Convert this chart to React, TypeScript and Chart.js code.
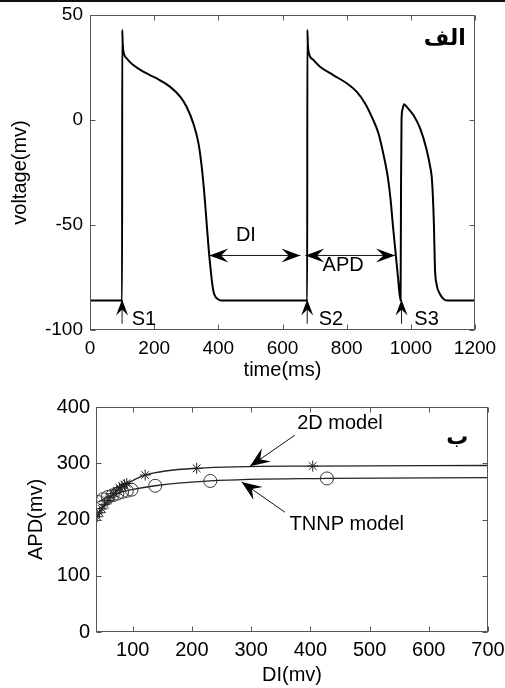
import React, { useEffect, useRef } from "react";
import { Chart, registerables } from "chart.js";

Chart.register(...registerables);

const FONT = "'Liberation Sans', Arial, Helvetica, sans-serif";
const ARABIC_FONT = "'DejaVu Sans', 'Noto Sans', sans-serif";

// ---------- Panel "الف" : action potential trace ----------
const timeMs = [
  0, 100, 100.5, 102, 105, 114, 135, 166, 208, 249, 281, 301, 322, 338, 348, 358, 364, 372, 384, 400, 412,
  677, 677.5, 679, 682, 696, 717, 758, 800, 831, 857, 878, 899, 914, 928, 937, 944, 953, 960, 968,
  969.5, 971, 974, 979, 986, 997, 1008, 1029, 1049, 1060, 1065, 1068, 1072, 1075, 1080, 1091, 1105, 1116, 1200,
];
const voltageMv = [
  -86, -86, 43, 36, 32, 29.4, 26.2, 23, 19.8, 15.9, 11.1, 6.3, -1.6, -11, -22, -38, -50, -65, -81, -85.4, -86,
  -86, 43, 36, 32, 28.6, 25.4, 21.4, 17.5, 13.5, 8, 1.6, -6.3, -15.9, -27, -38, -50, -64, -75, -86,
  -30, 0, 5, 7.5, 6.5, 4.5, 2.4, -4, -14, -22, -27, -34, -50, -70, -78, -83, -85.6, -86, -86,
];
const timeTicks = [0, 200, 400, 600, 800, 1000, 1200];
const voltTicks = [-100, -50, 0, 50];
const stimTimes = [100, 677, 971];
const stimNames = ["S1", "S2", "S3"];
const stimLabelTimes = [168, 751, 1049];

// ---------- Panel "ب" : APD restitution ----------
const di2D = [40, 44, 48, 53, 58, 63, 68, 73, 78, 82, 86, 90, 121, 208, 404];
const apd2D = [205, 212, 219, 227, 234, 240, 246, 251, 256, 259, 262, 264, 279, 291, 295];
const diTNNP = [42, 50, 58, 66, 74, 82, 90, 98, 138, 231, 428];
const apdTNNP = [231, 236, 240, 243, 246, 249, 251, 253, 260, 268.5, 273];
const diEnd = 700;
const apd2DEnd = 296;
const apdTNNPEnd = 274.5;
const diTicks = [100, 200, 300, 400, 500, 600, 700];
const apdTicks = [0, 100, 200, 300, 400];

type Arrow = { x1: number; y1: number; x2: number; y2: number; both?: boolean; len: number; half: number };
type Label = { x: number; y: number; text: string; size: number; bold?: boolean; family?: string };
type Decor = {
  xTicks: number[];
  yTicks: number[];
  xTitle: string;
  yTitle: string;
  titleSize: number;
  xTitleDy: number;
  yTitleX: number;
  labels: Label[];
  arrows: Arrow[];
};

function head(ctx: CanvasRenderingContext2D, tx: number, ty: number, dx: number, dy: number, len: number, half: number) {
  const m = Math.hypot(dx, dy) || 1;
  const ux = dx / m, uy = dy / m;
  const nx = -uy, ny = ux;
  ctx.beginPath();
  ctx.moveTo(tx, ty);
  ctx.lineTo(tx - ux * len + nx * half, ty - uy * len + ny * half);
  ctx.lineTo(tx - ux * len * 0.62, ty - uy * len * 0.62);
  ctx.lineTo(tx - ux * len - nx * half, ty - uy * len - ny * half);
  ctx.closePath();
  ctx.fill();
}

function makeDecor(d: Decor) {
  return {
    id: "decor",
    afterDraw(chart: any) {
      const { ctx, chartArea: a, scales } = chart;
      const xs = scales.x, ys = scales.y;
      ctx.save();
      // frame with inward ticks
      const L = Math.round(a.left) + 0.5, R = Math.round(a.right) - 0.5;
      const T = Math.round(a.top) + 0.5, B = Math.round(a.bottom) - 0.5;
      ctx.strokeStyle = "#555";
      ctx.lineWidth = 1;
      ctx.strokeRect(L, T, R - L, B - T);
      ctx.beginPath();
      for (const v of d.xTicks) {
        const p = Math.round(xs.getPixelForValue(v)) + 0.5;
        ctx.moveTo(p, B); ctx.lineTo(p, B - 5);
        ctx.moveTo(p, T); ctx.lineTo(p, T + 5);
      }
      for (const v of d.yTicks) {
        const p = Math.round(ys.getPixelForValue(v)) + 0.5;
        ctx.moveTo(L, p); ctx.lineTo(L + 5, p);
        ctx.moveTo(R, p); ctx.lineTo(R - 5, p);
      }
      ctx.stroke();

      // axis titles
      ctx.fillStyle = "#000";
      ctx.font = `${d.titleSize}px ${FONT}`;
      ctx.textAlign = "center";
      ctx.textBaseline = "middle";
      ctx.fillText(d.xTitle, (a.left + a.right) / 2, a.bottom + d.xTitleDy);
      ctx.save();
      ctx.translate(d.yTitleX, (a.top + a.bottom) / 2);
      ctx.rotate(-Math.PI / 2);
      ctx.fillText(d.yTitle, 0, 0);
      ctx.restore();

      // arrows
      ctx.strokeStyle = "#111";
      ctx.fillStyle = "#000";
      ctx.lineWidth = 1;
      for (const ar of d.arrows) {
        const x1 = xs.getPixelForValue(ar.x1), y1 = ys.getPixelForValue(ar.y1);
        const x2 = xs.getPixelForValue(ar.x2), y2 = ys.getPixelForValue(ar.y2);
        ctx.beginPath();
        ctx.moveTo(x1, y1);
        ctx.lineTo(x2, y2);
        ctx.stroke();
        head(ctx, x2, y2, x2 - x1, y2 - y1, ar.len, ar.half);
        if (ar.both) head(ctx, x1, y1, x1 - x2, y1 - y2, ar.len, ar.half);
      }

      // labels
      for (const lb of d.labels) {
        ctx.font = `${lb.bold ? "bold " : ""}${lb.size}px ${lb.family || FONT}`;
        ctx.textAlign = "center";
        ctx.textBaseline = "middle";
        ctx.fillStyle = "#000";
        ctx.fillText(lb.text, xs.getPixelForValue(lb.x), ys.getPixelForValue(lb.y));
      }
      ctx.restore();
    },
  };
}

function axisCommon(size: number, pad: number, ticks: number[]) {
  return {
    type: "linear" as const,
    grid: { display: false, drawTicks: false },
    border: { display: false },
    ticks: {
      font: { family: FONT, size },
      color: "#000",
      padding: pad,
      maxRotation: 0,
      autoSkip: false,
      callback: (v: any) => String(v),
    },
    afterBuildTicks: (s: any) => {
      s.ticks = ticks.map((v) => ({ value: v }));
    },
  };
}

function TopChart() {
  const ref = useRef<HTMLCanvasElement>(null);
  useEffect(() => {
    const points = timeMs.map((t, i) => ({ x: t, y: voltageMv[i] }));
    const arrows: Arrow[] = [
      { x1: 372, y1: -64.5, x2: 656, y2: -64.5, both: true, len: 19, half: 7 },
      { x1: 671, y1: -64.5, x2: 951, y2: -64.5, both: true, len: 19, half: 7 },
      ...stimTimes.map((t) => ({ x1: t, y1: -97, x2: t, y2: -85.5, len: 16, half: 6 })),
    ];
    const labels: Label[] = [
      { x: 486, y: -54.8, text: "DI", size: 20 },
      { x: 789, y: -69.5, text: "APD", size: 20 },
      ...stimNames.map((s, i) => ({ x: stimLabelTimes[i], y: -95, text: s, size: 20 })),
      { x: 1106, y: 38.5, text: "الف", size: 22, bold: true, family: ARABIC_FONT },
    ];
    const chart = new Chart(ref.current as HTMLCanvasElement, {
      type: "scatter",
      data: {
        datasets: [
          {
            data: points,
            showLine: true,
            borderColor: "#000",
            borderWidth: 2,
            pointRadius: 0,
            cubicInterpolationMode: "monotone",
            fill: false,
          } as any,
        ],
      },
      options: {
        responsive: false,
        animation: false,
        devicePixelRatio: 1,
        events: [],
        layout: { padding: { left: 0, top: 15, right: 30, bottom: 0 } },
        plugins: { legend: { display: false }, tooltip: { enabled: false } },
        scales: {
          x: {
            ...axisCommon(19, 7, timeTicks),
            min: 0,
            max: 1200,
            afterFit: (s: any) => {
              s.height = 55;
              s.paddingLeft = 0;
              s.paddingRight = 0;
            },
          },
          y: {
            ...axisCommon(19, 7, voltTicks),
            min: -100,
            max: 50,
            afterFit: (s: any) => {
              s.width = 90;
              s.paddingTop = 0;
              s.paddingBottom = 0;
            },
          },
        } as any,
      },
      plugins: [
        makeDecor({
          xTicks: timeTicks,
          yTicks: voltTicks,
          xTitle: "time(ms)",
          yTitle: "voltage(mv)",
          titleSize: 20,
          xTitleDy: 40,
          yTitleX: 20,
          labels,
          arrows,
        }),
      ],
    });
    return () => chart.destroy();
  }, []);
  return (
    <canvas
      ref={ref}
      width={505}
      height={385}
      style={{ position: "absolute", left: 0, top: 0, width: 505, height: 385 }}
    />
  );
}

function BottomChart() {
  const ref = useRef<HTMLCanvasElement>(null);
  useEffect(() => {
    const pts2D = [...di2D.map((x, i) => ({ x, y: apd2D[i] })), { x: diEnd, y: apd2DEnd }];
    const ptsT = [...diTNNP.map((x, i) => ({ x, y: apdTNNP[i] })), { x: diEnd, y: apdTNNPEnd }];
    const arrows: Arrow[] = [
      { x1: 374, y1: 350, x2: 298, y2: 294.6, len: 20, half: 8 },
      { x1: 357, y1: 213, x2: 284, y2: 266.7, len: 20, half: 8 },
    ];
    const labels: Label[] = [
      { x: 450, y: 371, text: "2D model", size: 20 },
      { x: 461.5, y: 191.5, text: "TNNP model", size: 20 },
      { x: 648, y: 345, text: "ب", size: 22, bold: true, family: ARABIC_FONT },
    ];
    const chart = new Chart(ref.current as HTMLCanvasElement, {
      type: "scatter",
      data: {
        datasets: [
          {
            data: pts2D,
            showLine: true,
            borderColor: "#222",
            borderWidth: 1.3,
            pointStyle: "star",
            pointRadius: (c: any) => (c.dataIndex < di2D.length ? 5.5 : 0),
            pointBorderColor: "#222",
            pointBorderWidth: 1,
            pointBackgroundColor: "rgba(0,0,0,0)",
            cubicInterpolationMode: "monotone",
          } as any,
          {
            data: ptsT,
            showLine: true,
            borderColor: "#222",
            borderWidth: 1.3,
            pointStyle: "circle",
            pointRadius: (c: any) => (c.dataIndex < diTNNP.length ? 6.5 : 0),
            pointBorderColor: "#333",
            pointBorderWidth: 1,
            pointBackgroundColor: "rgba(0,0,0,0)",
            cubicInterpolationMode: "monotone",
          } as any,
        ],
      },
      options: {
        responsive: false,
        animation: false,
        devicePixelRatio: 1,
        events: [],
        layout: { padding: { left: 0, top: 22, right: 17, bottom: 0 } },
        plugins: { legend: { display: false }, tooltip: { enabled: false } },
        scales: {
          x: {
            ...axisCommon(20, 6, diTicks),
            min: 38,
            max: 700,
            afterFit: (s: any) => {
              s.height = 56;
              s.paddingLeft = 0;
              s.paddingRight = 0;
            },
          },
          y: {
            ...axisCommon(20, 6, apdTicks),
            min: 0,
            max: 400,
            afterFit: (s: any) => {
              s.width = 96;
              s.paddingTop = 0;
              s.paddingBottom = 0;
            },
          },
        } as any,
      },
      plugins: [
        makeDecor({
          xTicks: diTicks,
          yTicks: apdTicks,
          xTitle: "DI(mv)",
          yTitle: "APD(mv)",
          titleSize: 20,
          xTitleDy: 43,
          yTitleX: 36,
          labels,
          arrows,
        }),
      ],
    });
    return () => chart.destroy();
  }, []);
  return (
    <canvas
      ref={ref}
      width={505}
      height={303}
      style={{ position: "absolute", left: 0, top: 385, width: 505, height: 303 }}
    />
  );
}

export default function App() {
  return (
    <div style={{ position: "absolute", left: 0, top: 0, width: 505, height: 688, background: "#fff", overflow: "hidden" }}>
      <div style={{ position: "absolute", left: 0, top: 0, width: 505, height: 2, background: "#111" }} />
      <TopChart />
      <BottomChart />
    </div>
  );
}
